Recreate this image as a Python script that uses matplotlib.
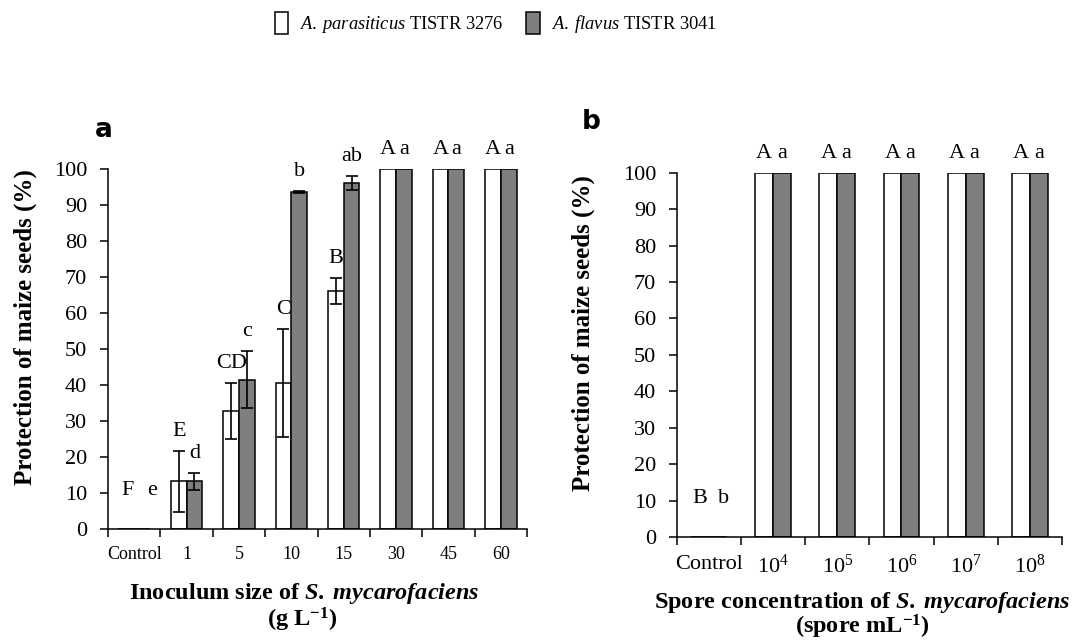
import matplotlib
matplotlib.use("Agg")
import matplotlib.pyplot as plt
import numpy as np

plt.rcParams['font.family'] = ['Liberation Serif', 'DejaVu Serif']
plt.rcParams['mathtext.fontset'] = 'custom'
plt.rcParams['mathtext.rm'] = 'Liberation Serif'
plt.rcParams['mathtext.it'] = 'Liberation Serif:italic'
plt.rcParams['mathtext.bf'] = 'Liberation Serif:bold'
plt.rcParams['mathtext.bfit'] = 'Liberation Serif:italic:bold'

# //data, panel a (inoculum size)
cats_a = ["Control", "1", "5", "10", "15", "30", "45", "60"]
para_a = [0, 13.3, 32.7, 40.6, 66.2, 100, 100, 100]
para_a_err = [0, 8.5, 7.8, 15.0, 3.6, 0, 0, 0]
flav_a = [0, 13.2, 41.5, 93.6, 96.1, 100, 100, 100]
flav_a_err = [0, 2.3, 8.0, 0.3, 2.0, 0, 0, 0]
letters_para_a = ["F", "E", "CD", "C", "B", "A", "A", "A"]
letters_flav_a = ["e", "d", "c", "b", "ab", "a", "a", "a"]

# //data, panel b (spore concentration)
cats_b = ["Control", r"$\mathrm{10}^{4}$", r"$\mathrm{10}^{5}$", r"$\mathrm{10}^{6}$",
          r"$\mathrm{10}^{7}$", r"$\mathrm{10}^{8}$"]
para_b = [0, 100, 100, 100, 100, 100]
flav_b = [0, 100, 100, 100, 100, 100]
letters_para_b = ["B", "A", "A", "A", "A", "A"]
letters_flav_b = ["b", "a", "a", "a", "a", "a"]

label_para = r"$\mathit{A.\;parasiticus}$ TISTR 3276"
label_flav = r"$\mathit{A.\;flavus}$ TISTR 3041"
grey = "#7f7f7f"

fig = plt.figure(figsize=(10.78, 6.42), dpi=100)
ax_a = fig.add_axes([0.1002, 0.176, 0.3887, 0.5608])
ax_b = fig.add_axes([0.628, 0.1636, 0.357, 0.5674])


def draw_panel(ax, cats, para, flav, para_err, flav_err, lp, lf, w, ctrl_x, xfs, xpad):
    x = np.arange(len(cats))
    ax.bar(x - w / 2, para, w, color="white", edgecolor="black", linewidth=1.1,
           label=label_para, zorder=2)
    ax.bar(x + w / 2, flav, w, color=grey, edgecolor="black", linewidth=1.1,
           label=label_flav, zorder=2)
    if para_err is None:
        para_err = [0] * len(cats)
        flav_err = [0] * len(cats)
    for xi, m, e in zip(x, para, para_err):
        if e > 0:
            ax.errorbar(xi - w / 2, m, yerr=e, color="black", capsize=4.5,
                        elinewidth=1.2, capthick=1.2, zorder=3)
    for xi, m, e in zip(x, flav, flav_err):
        if e > 0:
            ax.errorbar(xi + w / 2, m, yerr=e, color="black", capsize=4.5,
                        elinewidth=1.2, capthick=1.2, zorder=3)

    # letters above bars
    for i in range(len(cats)):
        if para[i] == 0:
            ax.text(ctrl_x[0], 8, lp[i], ha="center", va="bottom", fontsize=16)
            ax.text(ctrl_x[1], 8, lf[i], ha="center", va="bottom", fontsize=16)
            continue
        ax.annotate(lp[i], (x[i] - w / 2, para[i] + para_err[i]), xytext=(0, 7),
                    textcoords="offset points", ha="center", va="bottom",
                    fontsize=16, annotation_clip=False)
        ax.annotate(lf[i], (x[i] + w / 2, flav[i] + flav_err[i]), xytext=(0, 7),
                    textcoords="offset points", ha="center", va="bottom",
                    fontsize=16, annotation_clip=False)

    ax.set_xlim(-0.5, len(cats) - 0.5)
    ax.set_ylim(0, 100)
    ax.set_yticks(np.arange(0, 101, 10))
    ax.tick_params(axis="y", labelsize=16, direction="out", length=6, width=1.1, pad=9)
    ax.set_xticks(np.arange(len(cats) + 1) - 0.5)
    ax.set_xticklabels([])
    ax.set_xticks(x, minor=True)
    ax.set_xticklabels(cats, minor=True, fontsize=xfs)
    ax.tick_params(axis="x", which="major", direction="out", length=6, width=1.1)
    ax.tick_params(axis="x", which="minor", length=0, pad=xpad)
    for s in ["top", "right"]:
        ax.spines[s].set_visible(False)
    for s in ["left", "bottom"]:
        ax.spines[s].set_linewidth(1.1)
    ax.set_ylabel("Protection of maize seeds (%)", fontsize=18, fontweight="bold")


draw_panel(ax_a, cats_a, para_a, flav_a, para_a_err, flav_a_err,
           letters_para_a, letters_flav_a, 0.3, (-0.12, 0.35), 13, 12)
draw_panel(ax_b, cats_b, para_b, flav_b, None, None,
           letters_para_b, letters_flav_b, 0.28, (-0.15, 0.22), 16, 13)

ax_a.yaxis.set_label_coords(-0.17, 0.561)
ax_b.yaxis.set_label_coords(-0.213, 0.561)

# axis titles
fig.text(0.282, 0.076, r"Inoculum size of $\mathbfit{S.\;mycarofaciens}$",
         ha="center", va="center", fontsize=17.5, fontweight="bold")
fig.text(0.28, 0.034, r"(g L$^{\mathbf{-1}}$)",
         ha="center", va="center", fontsize=17.5, fontweight="bold")
fig.text(0.80, 0.061, r"Spore concentration of $\mathbfit{S.\;mycarofaciens}$",
         ha="center", va="center", fontsize=17.5, fontweight="bold")
fig.text(0.80, 0.023, r"(spore mL$^{\mathbf{-1}}$)",
         ha="center", va="center", fontsize=17.5, fontweight="bold")

# panel letters
fig.text(0.088, 0.797, "a", fontsize=19, fontweight="bold", family="DejaVu Sans",
         ha="left", va="center")
fig.text(0.54, 0.81, "b", fontsize=19, fontweight="bold", family="DejaVu Sans",
         ha="left", va="center")

handles, labels = ax_a.get_legend_handles_labels()
fig.legend(handles, labels, loc="center", bbox_to_anchor=(0.46, 0.963), ncol=2,
           frameon=False, fontsize=13.3, handlelength=0.75, handleheight=1.4,
           columnspacing=1.2, handletextpad=0.6)

fig.savefig("out.png", dpi=100)
